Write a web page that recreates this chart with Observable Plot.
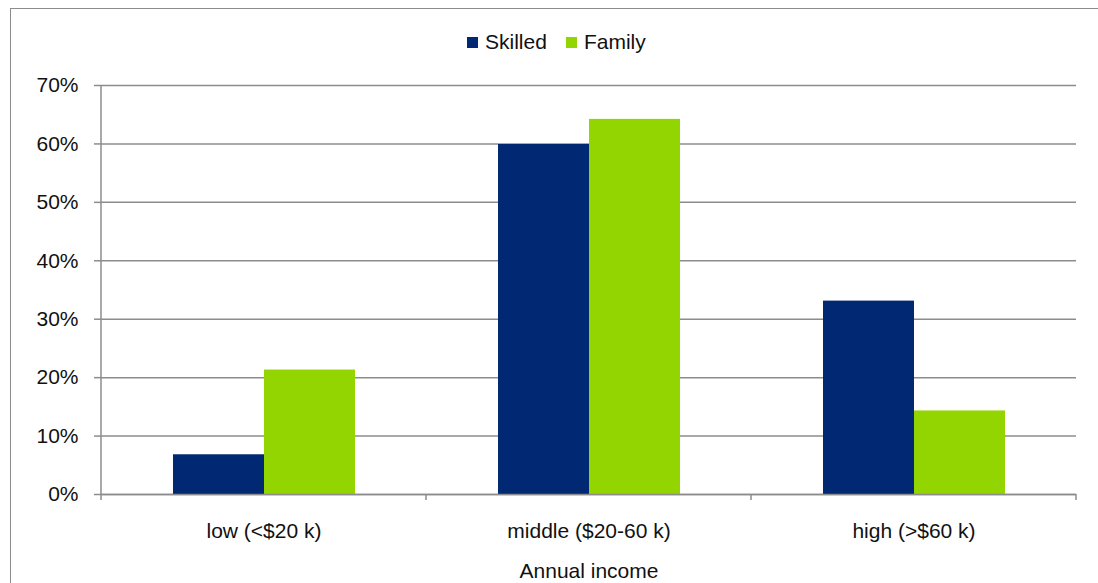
<!DOCTYPE html>
<html>
<head>
<meta charset="utf-8">
<script src="https://cdn.jsdelivr.net/npm/d3@7"></script>
<script src="https://cdn.jsdelivr.net/npm/@observablehq/plot@0.6"></script>
<style>
  html, body { margin: 0; padding: 0; background: #fff; }
  #chart { position: relative; width: 1098px; height: 583px; overflow: hidden; font-family: "Liberation Sans", Arial, sans-serif; }
  #frame { position: absolute; left: 10px; top: 8px; right: -10px; bottom: -10px; border-left: 1.5px solid #8c8c8c; border-top: 1.5px solid #8c8c8c; pointer-events: none; z-index: 2; }
  #legend { position: absolute; left: 467px; top: 29px; z-index: 3; display: flex; align-items: center; font-size: 21px; color: #111; line-height: 26px; }
  #legend .item { display: flex; align-items: center; margin-right: 19px; }
  #legend .swatch { width: 11px; height: 11px; margin-right: 7px; }
  #chart svg { position: absolute; left: 0; top: 0; z-index: 1; }
</style>
</head>
<body>
<div id="chart"><div id="frame"></div><div id="legend"></div></div>
<script>
// Share of migrants by annual income band, skilled vs family stream
const incomeBands = ["low (<$20 k)", "middle ($20-60 k)", "high (>$60 k)"];
const streams = ["Skilled", "Family"];
const skilledShare = [0.068, 0.599, 0.331];
const familyShare = [0.213, 0.642, 0.143];
const yTicks = [0, 0.1, 0.2, 0.3, 0.4, 0.5, 0.6, 0.7];
const streamColors = ["#002873", "#93d500"];

const rows = incomeBands.flatMap((band, i) => [
  {band, stream: "Skilled", share: skilledShare[i]},
  {band, stream: "Family", share: familyShare[i]}
]);

const gray = "#8c8c8c";

const plot = Plot.plot({
  width: 1098,
  height: 583,
  marginLeft: 100,
  marginRight: 22,
  marginTop: 85,
  marginBottom: 89,
  style: {fontFamily: "'Liberation Sans', Arial, sans-serif", fontSize: "21px", color: "#111", background: "transparent"},
  fx: {domain: incomeBands, padding: 0, label: null},
  x: {domain: streams, paddingInner: 0, paddingOuter: 0.78, axis: null},
  y: {domain: [0, 0.7], label: null},
  color: {domain: streams, range: streamColors},
  marks: [
    Plot.gridY(yTicks, {stroke: gray, strokeOpacity: 1, strokeWidth: 1.5}),
    Plot.barY(rows, {fx: "band", x: "stream", y: "share", fill: "stream"}),
    Plot.ruleY([0], {stroke: gray, strokeWidth: 1.5}),
    Plot.axisY(yTicks, {tickFormat: d3.format(".0%"), tickSize: 7, tickPadding: 16, stroke: gray, strokeWidth: 1.5, label: null}),
    Plot.axisFx({anchor: "bottom", tickSize: 0, tickPadding: 29, label: "Annual income", labelAnchor: "center", labelOffset: 83, labelArrow: "none"})
  ]
});

// Axis line on the left and category boundary ticks under the baseline
const fx = plot.scale("fx");
const y = plot.scale("y");
const svg = d3.select(plot);
const y0 = y.apply(0);
const yTop = y.apply(0.7);
const edges = incomeBands.map(b => fx.apply(b)).concat([fx.apply(incomeBands[incomeBands.length - 1]) + fx.bandwidth]);
const g = svg.append("g").attr("stroke", gray).attr("stroke-width", 1.5);
g.append("line").attr("x1", edges[0]).attr("x2", edges[0]).attr("y1", yTop).attr("y2", y0 + 6);
g.selectAll("line.edge").data(edges.slice(1)).join("line")
  .attr("class", "edge")
  .attr("x1", d => d).attr("x2", d => d)
  .attr("y1", y0).attr("y2", y0 + 6);

document.getElementById("chart").appendChild(plot);

// Legend: colour swatch followed by the stream name
const legend = d3.select("#legend");
streams.forEach((s, i) => {
  const item = legend.append("div").attr("class", "item");
  item.append("div").attr("class", "swatch").style("background", streamColors[i]);
  item.append("span").text(s);
});
</script>
</body>
</html>
